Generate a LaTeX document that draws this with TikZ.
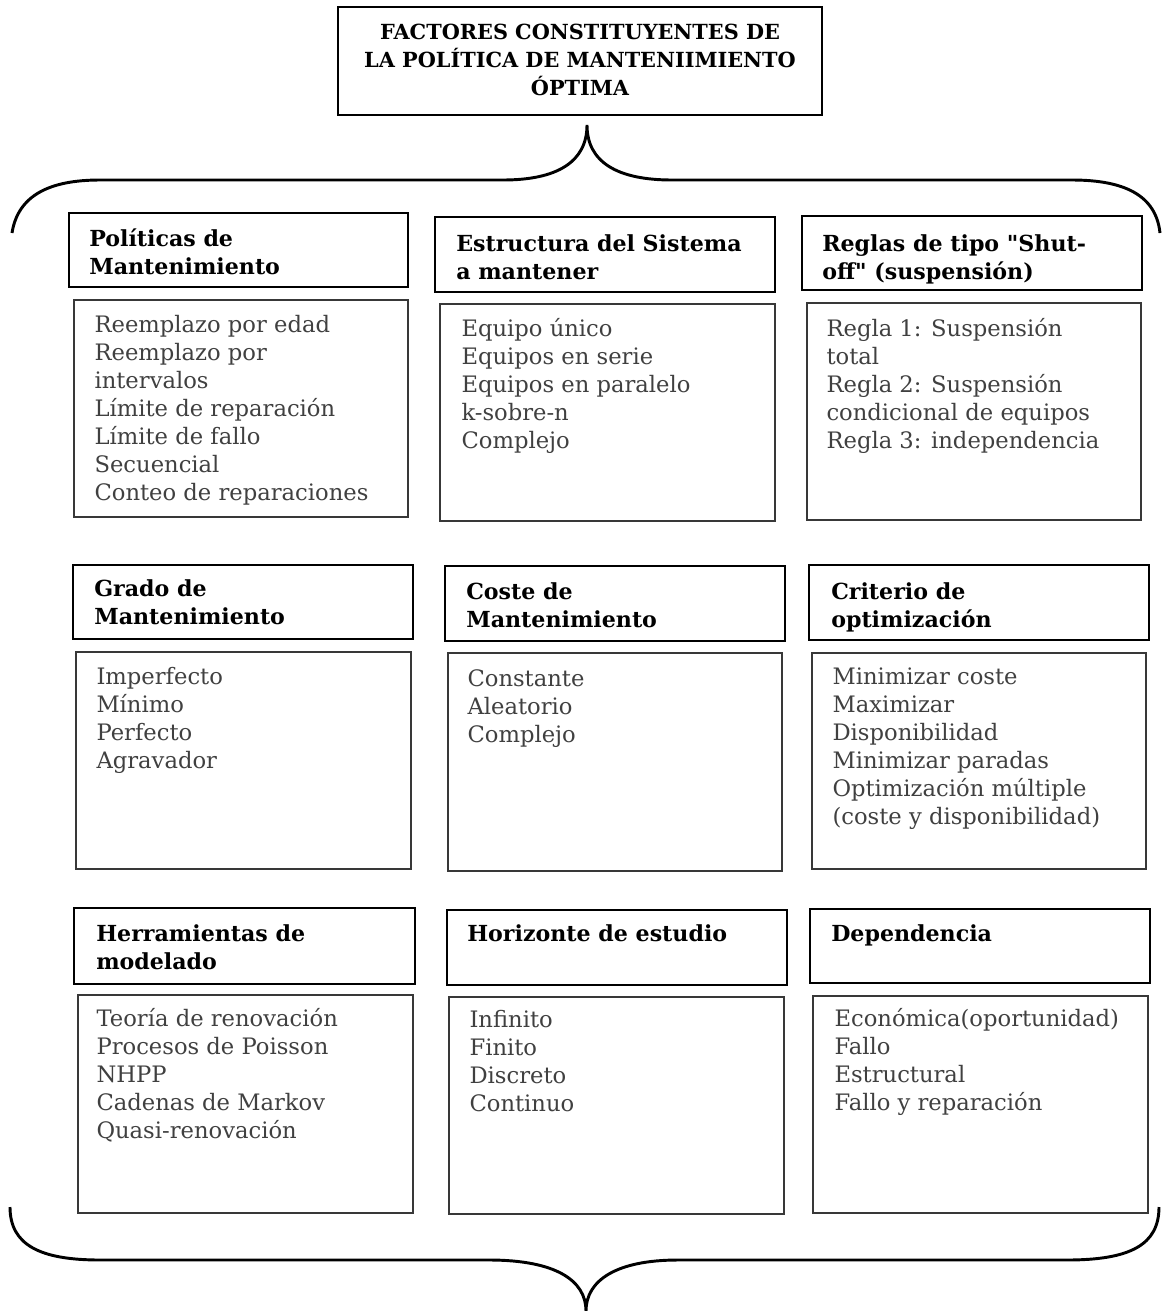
\documentclass[tikz,border=0pt]{standalone}
\usepackage{fontspec}
\setmainfont{DejaVu Serif}[Ligatures=TeXOff]
% rectangle node between two corners: name, style, x1, y1, x2, y2
\newcommand\panelbox[6]{%
  \node[#2, minimum width={(#5-#3)*0.75pt}, minimum height={(#6-#4)*0.75pt}]
    (#1) at ({(#3+#5)/2},{(#4+#6)/2}) {};}
% stacked lines whose baseline is that of the first line
\newcommand\leftlines[1]{\begin{tabular}[t]{@{}l@{}}#1\end{tabular}}
\newcommand\midlines[1]{\begin{tabular}[t]{@{}c@{}}#1\end{tabular}}
\begin{document}
\begin{tikzpicture}[x=0.75pt,y=-0.75pt,
  titlebox/.style={draw=black, line width=1.6pt, inner sep=0pt},
  hdrbox/.style={draw=black, line width=1.5pt, inner sep=0pt},
  listbox/.style={draw=black!78, line width=1.1pt, inner sep=0pt},
  hdrtext/.style={anchor=base west, inner sep=0pt,
    font=\bfseries\fontsize{16.6}{21}\selectfont},
  listtext/.style={anchor=base west, inner sep=0pt, text=black!75,
    font=\fontsize{17}{21}\selectfont},
  brace/.style={line width=2.2pt, line cap=butt}]
\useasboundingbox (0,0) rectangle (1163,1311);

% title
\panelbox{title}{titlebox}{338}{7}{822}{115}
\node[anchor=base, inner sep=0pt,
  font=\bfseries\fontsize{15.6}{21}\selectfont] (ttl) at ([yshift=-34*0.75pt]title.north)
  {\midlines{FACTORES CONSTITUYENTES DE\\LA POLÍTICA DE MANTENIIMIENTO\\ÓPTIMA}};

% upper brace
\coordinate (tipTop) at (587,125);
\draw[brace] (12,233) .. controls (18,195) and (50,180) .. (100,180)
  -- (503,180) .. controls (557,180) and (587,162) .. (tipTop)
  .. controls (587,162) and (617,180) .. (672,180)
  -- (1072,180) .. controls (1124,180) and (1156,195) .. (1160,233);

% lower brace
\coordinate (tipBot) at (586,1311);
\draw[brace] (10,1207) .. controls (10,1245) and (40,1260) .. (100,1260)
  -- (489,1260) .. controls (555,1260) and (586,1280) .. (tipBot)
  .. controls (586,1280) and (617,1260) .. (678,1260)
  -- (1067,1260) .. controls (1130,1260) and (1159,1245) .. (1159,1207);

% row 1
\panelbox{h1}{hdrbox}{69}{213}{408}{287}
\panelbox{c1}{listbox}{74}{300}{408}{517}
\panelbox{h2}{hdrbox}{435}{217}{775}{292}
\panelbox{c2}{listbox}{440}{304}{775}{521}
\panelbox{h3}{hdrbox}{802}{216}{1142}{290}
\panelbox{c3}{listbox}{807}{303}{1141}{520}
% row 2
\panelbox{h4}{hdrbox}{73}{565}{413}{639}
\panelbox{c4}{listbox}{76}{652}{411}{869}
\panelbox{h5}{hdrbox}{445}{566}{785}{641}
\panelbox{c5}{listbox}{448}{653}{782}{871}
\panelbox{h6}{hdrbox}{809}{565}{1149}{640}
\panelbox{c6}{listbox}{812}{653}{1146}{869}
% row 3
\panelbox{h7}{hdrbox}{74}{908}{415}{984}
\panelbox{c7}{listbox}{78}{995}{413}{1213}
\panelbox{h8}{hdrbox}{447}{910}{787}{985}
\panelbox{c8}{listbox}{449}{997}{784}{1214}
\panelbox{h9}{hdrbox}{810}{909}{1150}{983}
\panelbox{c9}{listbox}{813}{996}{1148}{1213}

% headings
\node[hdrtext] (h1t) at ([shift={(21,34)}]h1.north west) {\leftlines{Políticas de\\Mantenimiento}};
\node[hdrtext] (h2t) at ([shift={(22,35)}]h2.north west) {\leftlines{Estructura del Sistema\\a mantener}};
\node[hdrtext] (h3t) at ([shift={(21,36)}]h3.north west) {\leftlines{Reglas de tipo "Shut-\\off" (suspensión)}};
\node[hdrtext] (h4t) at ([shift={(22,32)}]h4.north west) {\leftlines{Grado de\\Mantenimiento}};
\node[hdrtext] (h5t) at ([shift={(22,34)}]h5.north west) {\leftlines{Coste de\\Mantenimiento}};
\node[hdrtext] (h6t) at ([shift={(23,35)}]h6.north west) {\leftlines{Criterio de\\optimización}};
\node[hdrtext] (h7t) at ([shift={(23,34)}]h7.north west) {\leftlines{Herramientas de\\modelado}};
\node[hdrtext] (h8t) at ([shift={(21,32)}]h8.north west) {Horizonte de estudio};
\node[hdrtext] (h9t) at ([shift={(22,33)}]h9.north west) {Dependencia};

% item lists
\node[listtext] (c1t) at ([shift={(21,33)}]c1.north west)
  {\leftlines{Reemplazo por edad\\Reemplazo por\\intervalos\\Límite de reparación\\Límite de fallo\\Secuencial\\Conteo de reparaciones}};
\node[listtext] (c2t) at ([shift={(22,33)}]c2.north west)
  {\leftlines{Equipo único\\Equipos en serie\\Equipos en paralelo\\k-sobre-n\\Complejo}};
\node[listtext] (c3t) at ([shift={(20,34)}]c3.north west)
  {\leftlines{Regla 1: Suspensión\\total\\Regla 2: Suspensión\\condicional de equipos\\Regla 3: independencia}};
\node[listtext] (c4t) at ([shift={(21,33)}]c4.north west)
  {\leftlines{Imperfecto\\Mínimo\\Perfecto\\Agravador}};
\node[listtext] (c5t) at ([shift={(20,34)}]c5.north west)
  {\leftlines{Constante\\Aleatorio\\Complejo}};
\node[listtext] (c6t) at ([shift={(21,32)}]c6.north west)
  {\leftlines{Minimizar coste\\Maximizar\\Disponibilidad\\Minimizar paradas\\Optimización múltiple\\(coste y disponibilidad)}};
\node[listtext] (c7t) at ([shift={(19,32)}]c7.north west)
  {\leftlines{Teoría de renovación\\Procesos de Poisson\\NHPP\\Cadenas de Markov\\Quasi-renovación}};
\node[listtext] (c8t) at ([shift={(21,31)}]c8.north west)
  {\leftlines{Infinito\\Finito\\Discreto\\Continuo}};
\node[listtext] (c9t) at ([shift={(22,31)}]c9.north west)
  {\leftlines{Económica(oportunidad)\\Fallo\\Estructural\\Fallo y reparación}};
\end{tikzpicture}
\end{document}
